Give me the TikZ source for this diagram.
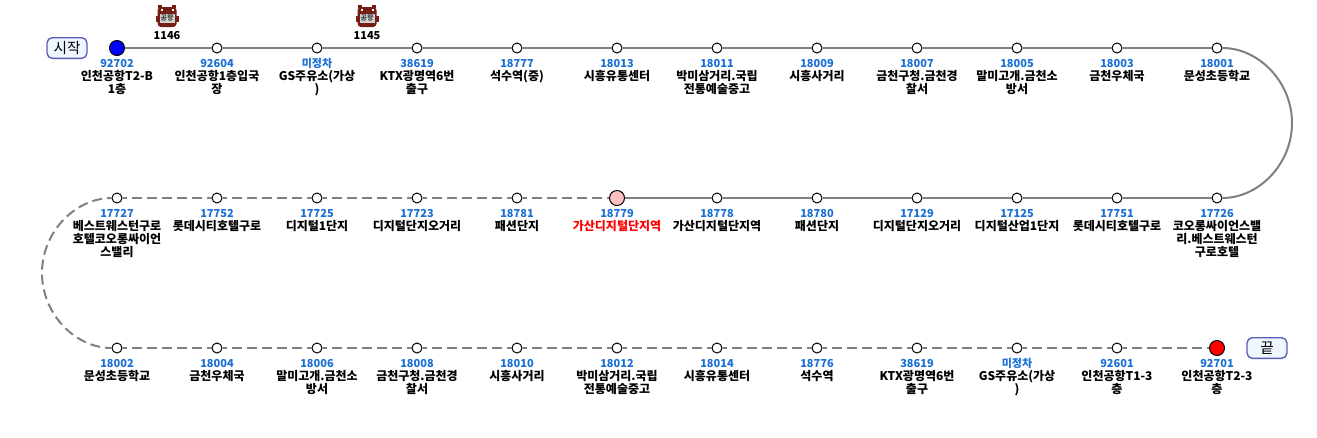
\documentclass[tikz,border=0pt]{standalone}
\usepackage{fontspec}
\setmainfont{Noto Sans CJK KR}
\definecolor{linegray}{HTML}{808080}
\definecolor{idblue}{HTML}{1A6FD6}
\definecolor{busred}{HTML}{761E14}
\definecolor{badgeline}{HTML}{5A5AB4}
\definecolor{badgefill}{HTML}{F0F6FF}
\tikzset{every picture/.style={line width=0.75pt}}
\tikzset{
  stopdot/.style={circle,draw=black,fill=white,line width=0.75pt,minimum size=7.5pt,inner sep=0pt},
  enddot/.style={circle,draw=black,line width=0.75pt,minimum size=11.25pt,inner sep=0pt},
  idtext/.style={text=idblue,font=\bfseries\fontsize{8.25pt}{9.75pt}\selectfont,inner sep=0pt},
  nametext/.style={text=black,font=\bfseries\fontsize{9pt}{9.75pt}\selectfont,align=center,anchor=north,inner sep=0pt},
  badge/.style={draw=badgeline,fill=badgefill,rounded corners=4pt,line width=1pt,minimum width=30pt,minimum height=15.5pt,inner sep=0pt,font=\fontsize{11pt}{12pt}\selectfont},
  busno/.style={font=\bfseries\fontsize{8.25pt}{9.75pt}\selectfont,inner sep=0pt},
  solidline/.style={draw=linegray,line width=1.5pt},
  dashline/.style={draw=linegray,line width=1.5pt,dash pattern=on 7.5pt off 3.75pt,dash phase=4.125pt},
  busicon/.pic={
    \fill [busred] (-11.5,-6) rectangle (-9,0);
    \fill [busred] (9,-6) rectangle (11.5,0);
    \fill [busred] (-9,8) rectangle (-5,11);
    \fill [busred] (5,8) rectangle (9,11);
    \fill [busred,rounded corners=2.5pt] (-9.5,-11) rectangle (9.5,9);
    \fill [white!82!black] (-7.5,-7) rectangle (7.5,2.5);
    \fill [white] (-6.5,5.5) rectangle (-4.5,7.5);
    \fill [white] (4.5,5.5) rectangle (6.5,7.5);
    \path (0,-2.2) node [text=black!75,inner sep=0pt,font=\bfseries\fontsize{5.25pt}{5.5pt}\selectfont] {공항};
  }
}

\begin{document}
\begin{tikzpicture}[x=0.75pt,y=0.75pt,yscale=-1,xscale=1]
\useasboundingbox (0,0) rectangle (1317,437);

% Bus
\path (167,16) pic {busicon};
\path (367,16) pic {busicon};
\draw (167,36) node [busno] (bus1146) {1146};
\draw (367,36) node [busno] (bus1145) {1145};

% Badge
\draw (67,48) node [badge] (start) {시작};
\draw (1267,348) node [badge] (end) {끝};

% Top row
\draw (117,48) node [enddot,fill=blue] (stop1) {};
\draw (217,48) node [stopdot] (stop2) {};
\draw (317,48) node [stopdot] (stop3) {};
\draw (417,48) node [stopdot] (stop4) {};
\draw (517,48) node [stopdot] (stop5) {};
\draw (617,48) node [stopdot] (stop6) {};
\draw (717,48) node [stopdot] (stop7) {};
\draw (817,48) node [stopdot] (stop8) {};
\draw (917,48) node [stopdot] (stop9) {};
\draw (1017,48) node [stopdot] (stop10) {};
\draw (1117,48) node [stopdot] (stop11) {};
\draw (1217,48) node [stopdot] (stop12) {};
% Middle row
\draw (1217,198) node [stopdot] (stop13) {};
\draw (1117,198) node [stopdot] (stop14) {};
\draw (1017,198) node [stopdot] (stop15) {};
\draw (917,198) node [stopdot] (stop16) {};
\draw (817,198) node [stopdot] (stop17) {};
\draw (717,198) node [stopdot] (stop18) {};
\draw (617,198) node [enddot,fill=pink] (stop19) {};
\draw (517,198) node [stopdot] (stop20) {};
\draw (417,198) node [stopdot] (stop21) {};
\draw (317,198) node [stopdot] (stop22) {};
\draw (217,198) node [stopdot] (stop23) {};
\draw (117,198) node [stopdot] (stop24) {};
% Bottom row
\draw (117,348) node [stopdot] (stop25) {};
\draw (217,348) node [stopdot] (stop26) {};
\draw (317,348) node [stopdot] (stop27) {};
\draw (417,348) node [stopdot] (stop28) {};
\draw (517,348) node [stopdot] (stop29) {};
\draw (617,348) node [stopdot] (stop30) {};
\draw (717,348) node [stopdot] (stop31) {};
\draw (817,348) node [stopdot] (stop32) {};
\draw (917,348) node [stopdot] (stop33) {};
\draw (1017,348) node [stopdot] (stop34) {};
\draw (1117,348) node [stopdot] (stop35) {};
\draw (1217,348) node [enddot,fill=red] (stop36) {};

% Arc ends
\coordinate (rightmid) at (1292,123);
\coordinate (leftmid) at (42,273);

% Solid Lines
\draw [solidline] (stop1) -- (stop2);
\draw [solidline] (stop2) -- (stop3);
\draw [solidline] (stop3) -- (stop4);
\draw [solidline] (stop4) -- (stop5);
\draw [solidline] (stop5) -- (stop6);
\draw [solidline] (stop6) -- (stop7);
\draw [solidline] (stop7) -- (stop8);
\draw [solidline] (stop8) -- (stop9);
\draw [solidline] (stop9) -- (stop10);
\draw [solidline] (stop10) -- (stop11);
\draw [solidline] (stop11) -- (stop12);
\draw [solidline] (stop12) .. controls (1258.4,48) and (1292,81.6) .. (rightmid) .. controls (1292,164.4) and (1258.4,198) .. (stop13);
\draw [solidline] (stop13) -- (stop14);
\draw [solidline] (stop14) -- (stop15);
\draw [solidline] (stop15) -- (stop16);
\draw [solidline] (stop16) -- (stop17);
\draw [solidline] (stop17) -- (stop18);
\draw [solidline] (stop18) -- (stop19);

% Dashed Lines
\draw [dashline] (stop20) -- (stop19);
\draw [dashline] (stop21) -- (stop20);
\draw [dashline] (stop22) -- (stop21);
\draw [dashline] (stop23) -- (stop22);
\draw [dashline] (stop24) -- (stop23);
\draw [dashline] (stop24) .. controls (75.6,198) and (42,231.6) .. (leftmid) .. controls (42,314.4) and (75.6,348) .. (stop25);
\draw [dashline] (stop25) -- (stop26);
\draw [dashline] (stop26) -- (stop27);
\draw [dashline] (stop27) -- (stop28);
\draw [dashline] (stop28) -- (stop29);
\draw [dashline] (stop29) -- (stop30);
\draw [dashline] (stop30) -- (stop31);
\draw [dashline] (stop31) -- (stop32);
\draw [dashline] (stop32) -- (stop33);
\draw [dashline] (stop33) -- (stop34);
\draw [dashline] (stop34) -- (stop35);
\draw [dashline] (stop35) -- (stop36);

% Text Node
\draw (117,63.5) node [idtext] (id1) {92702};
\draw (117,69.5) node [nametext] (name1) {인천공항T2-B\\1층};
\draw (217,63.5) node [idtext] (id2) {92604};
\draw (217,69.5) node [nametext] (name2) {인천공항1층입국\\장};
\draw (317,63.5) node [idtext] (id3) {미정차};
\draw (317,69.5) node [nametext] (name3) {GS주유소(가상\\)};
\draw (417,63.5) node [idtext] (id4) {38619};
\draw (417,69.5) node [nametext] (name4) {KTX광명역6번\\출구};
\draw (517,63.5) node [idtext] (id5) {18777};
\draw (517,69.5) node [nametext] (name5) {석수역(중)};
\draw (617,63.5) node [idtext] (id6) {18013};
\draw (617,69.5) node [nametext] (name6) {시흥유통센터};
\draw (717,63.5) node [idtext] (id7) {18011};
\draw (717,69.5) node [nametext] (name7) {박미삼거리.국립\\전통예술중고};
\draw (817,63.5) node [idtext] (id8) {18009};
\draw (817,69.5) node [nametext] (name8) {시흥사거리};
\draw (917,63.5) node [idtext] (id9) {18007};
\draw (917,69.5) node [nametext] (name9) {금천구청.금천경\\찰서};
\draw (1017,63.5) node [idtext] (id10) {18005};
\draw (1017,69.5) node [nametext] (name10) {말미고개.금천소\\방서};
\draw (1117,63.5) node [idtext] (id11) {18003};
\draw (1117,69.5) node [nametext] (name11) {금천우체국};
\draw (1217,63.5) node [idtext] (id12) {18001};
\draw (1217,69.5) node [nametext] (name12) {문성초등학교};
% Text Node
\draw (1217,213.5) node [idtext] (id13) {17726};
\draw (1217,219.5) node [nametext] (name13) {코오롱싸이언스밸\\리.베스트웨스턴\\구로호텔};
\draw (1117,213.5) node [idtext] (id14) {17751};
\draw (1117,219.5) node [nametext] (name14) {롯데시티호텔구로};
\draw (1017,213.5) node [idtext] (id15) {17125};
\draw (1017,219.5) node [nametext] (name15) {디지털산업1단지};
\draw (917,213.5) node [idtext] (id16) {17129};
\draw (917,219.5) node [nametext] (name16) {디지털단지오거리};
\draw (817,213.5) node [idtext] (id17) {18780};
\draw (817,219.5) node [nametext] (name17) {패션단지};
\draw (717,213.5) node [idtext] (id18) {18778};
\draw (717,219.5) node [nametext] (name18) {가산디지털단지역};
\draw (617,213.5) node [idtext] (id19) {18779};
\draw (617,219.5) node [nametext,text=red] (name19) {가산디지털단지역};
\draw (517,213.5) node [idtext] (id20) {18781};
\draw (517,219.5) node [nametext] (name20) {패션단지};
\draw (417,213.5) node [idtext] (id21) {17723};
\draw (417,219.5) node [nametext] (name21) {디지털단지오거리};
\draw (317,213.5) node [idtext] (id22) {17725};
\draw (317,219.5) node [nametext] (name22) {디지털1단지};
\draw (217,213.5) node [idtext] (id23) {17752};
\draw (217,219.5) node [nametext] (name23) {롯데시티호텔구로};
\draw (117,213.5) node [idtext] (id24) {17727};
\draw (117,219.5) node [nametext] (name24) {베스트웨스턴구로\\호텔코오롱싸이언\\스밸리};
% Text Node
\draw (117,363.5) node [idtext] (id25) {18002};
\draw (117,369.5) node [nametext] (name25) {문성초등학교};
\draw (217,363.5) node [idtext] (id26) {18004};
\draw (217,369.5) node [nametext] (name26) {금천우체국};
\draw (317,363.5) node [idtext] (id27) {18006};
\draw (317,369.5) node [nametext] (name27) {말미고개.금천소\\방서};
\draw (417,363.5) node [idtext] (id28) {18008};
\draw (417,369.5) node [nametext] (name28) {금천구청.금천경\\찰서};
\draw (517,363.5) node [idtext] (id29) {18010};
\draw (517,369.5) node [nametext] (name29) {시흥사거리};
\draw (617,363.5) node [idtext] (id30) {18012};
\draw (617,369.5) node [nametext] (name30) {박미삼거리.국립\\전통예술중고};
\draw (717,363.5) node [idtext] (id31) {18014};
\draw (717,369.5) node [nametext] (name31) {시흥유통센터};
\draw (817,363.5) node [idtext] (id32) {18776};
\draw (817,369.5) node [nametext] (name32) {석수역};
\draw (917,363.5) node [idtext] (id33) {38619};
\draw (917,369.5) node [nametext] (name33) {KTX광명역6번\\출구};
\draw (1017,363.5) node [idtext] (id34) {미정차};
\draw (1017,369.5) node [nametext] (name34) {GS주유소(가상\\)};
\draw (1117,363.5) node [idtext] (id35) {92601};
\draw (1117,369.5) node [nametext] (name35) {인천공항T1-3\\층};
\draw (1217,363.5) node [idtext] (id36) {92701};
\draw (1217,369.5) node [nametext] (name36) {인천공항T2-3\\층};

\end{tikzpicture}
\end{document}
